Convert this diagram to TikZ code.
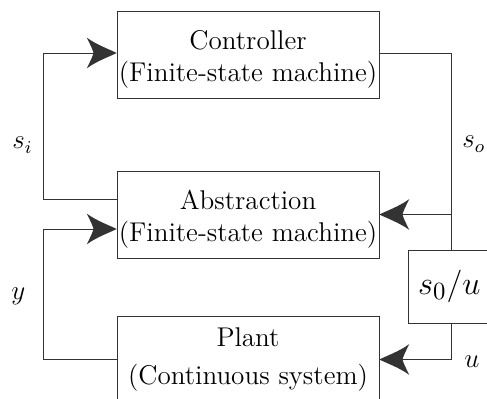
\documentclass[tikz,border=0pt,12pt]{standalone}
\usetikzlibrary{arrows.meta}
\pgfdeclarearrow{
  name = SwBarb,
  setup code = {
    \pgfarrowssettipend{0pt}
    \pgfarrowssetbackend{-13.2pt}
    \pgfarrowssetlineend{-9pt}
    \pgfarrowshullpoint{0pt}{0pt}
    \pgfarrowshullpoint{-13.2pt}{6.8pt}
    \pgfarrowshullpoint{-13.2pt}{-6.8pt}
  },
  drawing code = {
    \pgfpathmoveto{\pgfqpoint{0pt}{0pt}}
    \pgfpathcurveto{\pgfqpoint{-3pt}{1.6pt}}{\pgfqpoint{-8.5pt}{3.4pt}}{\pgfqpoint{-13.2pt}{6.8pt}}
    \pgfpathcurveto{\pgfqpoint{-11.6pt}{3.6pt}}{\pgfqpoint{-10.6pt}{1.6pt}}{\pgfqpoint{-10.2pt}{0pt}}
    \pgfpathcurveto{\pgfqpoint{-10.6pt}{-1.6pt}}{\pgfqpoint{-11.6pt}{-3.6pt}}{\pgfqpoint{-13.2pt}{-6.8pt}}
    \pgfpathcurveto{\pgfqpoint{-8.5pt}{-3.4pt}}{\pgfqpoint{-3pt}{-1.6pt}}{\pgfqpoint{0pt}{0pt}}
    \pgfpathclose
    \pgfusepathqfill
  },
}
\newcommand\lowstrut{\rule{0pt}{12.8pt}}
\begin{document}
\begin{tikzpicture}[x=0.443pt,y=-0.443pt,
  blk/.style={draw=black!80,line width=0.4pt,align=center,minimum width=262*0.443pt,minimum height=87*0.443pt,inner sep=0pt},
  smallblk/.style={draw=black!80,line width=0.4pt,minimum height=73*0.443pt,text width=29.2pt,inner sep=4.43pt,align=left,font=\fontsize{15.5}{18}\selectfont},
  wire/.style={draw=black!80,line width=0.4pt},
  arr/.style={wire,-{SwBarb}},
  lbl/.style={inner sep=0pt,anchor=base west}]
\useasboundingbox (0,0) rectangle (487,399);
\clip (0,0) rectangle (487,399);
\node[blk] (ctrl) at (248,54.5) {\lowstrut Controller\\(Finite-state machine)};
\node[blk] (abs) at (248,214.5) {\lowstrut Abstraction\\(Finite-state machine)};
\node[blk] (plant) at (248,359.5) {Plant\\[2pt](Continuous system)};
\node[smallblk] (s0u) at (451,286.5) {$s_0/u$};
% s_i loop
\draw[arr] ([yshift=15.5*0.443pt]abs.west) -- ++(-73,0) |- ([yshift=1.5*0.443pt]ctrl.west);
% y loop
\draw[arr] (plant.west) -- ++(-73,0) |- ([yshift=-14.5*0.443pt]abs.west);
% s_o
\draw[wire] ([yshift=1.5*0.443pt]ctrl.east) -| (s0u.north);
\draw[arr] (s0u.north |- abs.east) -- (abs.east);
% u
\draw[arr] (s0u.south) |- (plant.east);
% labels
\node[lbl] (lsi) at (12,149) {$s_i$};
\node[lbl] (lso) at (462,148) {$s_o$};
\node[lbl] (ly) at (11,300) {$y$};
\node[lbl] (lu) at (464,368) {$u$};
\end{tikzpicture}
\end{document}
